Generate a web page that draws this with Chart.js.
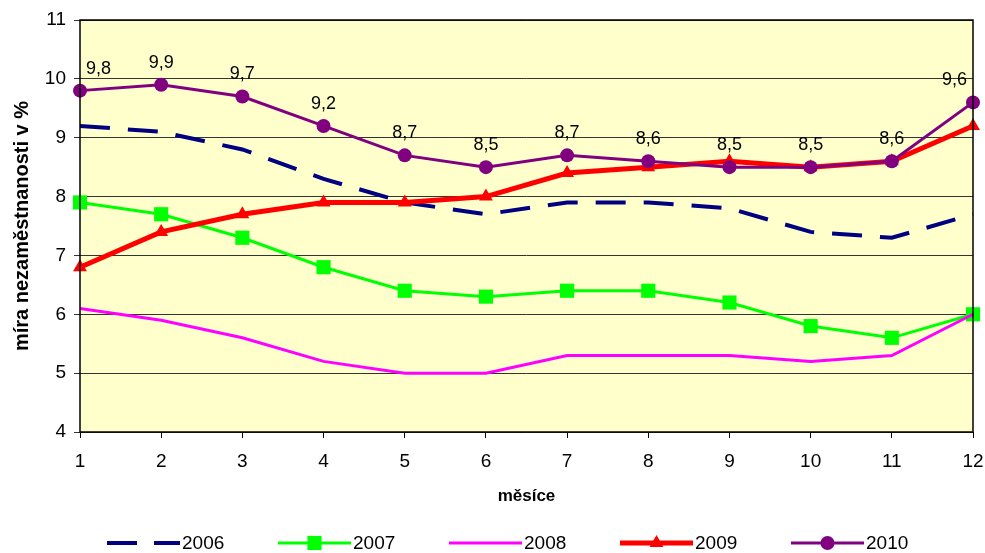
<!DOCTYPE html>
<html>
<head>
<meta charset="utf-8">
<script src="https://cdn.jsdelivr.net/npm/chart.js@4/dist/chart.umd.min.js"></script>
<style>
  html, body { margin: 0; padding: 0; background: #fff; }
  #wrap { width: 985px; height: 553px; position: relative; }
</style>
</head>
<body>
<div id="wrap"><canvas id="c" width="985" height="553"></canvas></div>
<script>
const months = ['1','2','3','4','5','6','7','8','9','10','11','12'];
const yTicks = [4,5,6,7,8,9,10,11];
const years = ['2006','2007','2008','2009','2010'];
const s2006 = [9.2, 9.1, 8.8, 8.3, 7.9, 7.7, 7.9, 7.9, 7.8, 7.4, 7.3, 7.7];
const s2007 = [7.9, 7.7, 7.3, 6.8, 6.4, 6.3, 6.4, 6.4, 6.2, 5.8, 5.6, 6.0];
const s2008 = [6.1, 5.9, 5.6, 5.2, 5.0, 5.0, 5.3, 5.3, 5.3, 5.2, 5.3, 6.0];
const s2009 = [6.8, 7.4, 7.7, 7.9, 7.9, 8.0, 8.4, 8.5, 8.6, 8.5, 8.6, 9.2];
const s2010 = [9.8, 9.9, 9.7, 9.2, 8.7, 8.5, 8.7, 8.6, 8.5, 8.5, 8.6, 9.6];
const yTitle = 'míra nezaměstnanosti v %';
const xTitle = 'měsíce';

const FONT = "'Liberation Sans', Arial, sans-serif";

const datasets = [
  { label: years[0], data: s2006, borderColor: '#000080', backgroundColor: '#000080',
    borderWidth: 4, borderDash: [30, 18], pointRadius: 0, order: 5 },
  { label: years[1], data: s2007, borderColor: '#00FF00', backgroundColor: '#00FF00',
    borderWidth: 3, pointStyle: 'rect', pointRadius: 10, pointBorderWidth: 0, order: 4 },
  { label: years[2], data: s2008, borderColor: '#FF00FF', backgroundColor: '#FF00FF',
    borderWidth: 3, pointRadius: 0, order: 3 },
  { label: years[3], data: s2009, borderColor: '#FF0000', backgroundColor: '#FF0000',
    borderWidth: 5, pointStyle: 'triangle', pointRadius: 8, pointBorderWidth: 0, order: 2 },
  { label: years[4], data: s2010, borderColor: '#800080', backgroundColor: '#800080',
    borderWidth: 3, pointStyle: 'circle', pointRadius: 7, pointBorderWidth: 0, order: 1, showLabels: true }
];
datasets.forEach(d => { d.tension = 0; d.clip = false; d.fill = false; d.pointHoverRadius = d.pointRadius; });

const bgPlugin = {
  id: 'bg',
  beforeDraw(chart) {
    const { ctx, chartArea: a } = chart;
    ctx.save();
    ctx.fillStyle = '#FFFFCC';
    ctx.fillRect(a.left, a.top, a.right - a.left, a.bottom - a.top);
    ctx.restore();
  },
  afterDatasetsDraw(chart) {
    const { ctx, chartArea: a } = chart;
    ctx.save();
    ctx.font = '18px ' + FONT;
    ctx.fillStyle = '#000';
    ctx.textAlign = 'center';
    ctx.textBaseline = 'middle';
    chart.data.datasets.forEach((ds, i) => {
      if (!ds.showLabels) return;
      const meta = chart.getDatasetMeta(i);
      meta.data.forEach((pt, j) => {
        const txt = ds.data[j].toFixed(1).replace('.', ',');
        const w = ctx.measureText(txt).width;
        let x = pt.x;
        x = Math.max(a.left + w / 2 + 6, Math.min(a.right - w / 2 - 6, x));
        ctx.fillText(txt, x, pt.y - 22);
      });
    });
    ctx.restore();
  },
  afterDraw(chart) {
    const { ctx, chartArea: a } = chart;
    ctx.save();
    ctx.strokeStyle = '#000';
    ctx.lineWidth = 1.5;
    ctx.strokeRect(a.left, a.top, a.right - a.left, a.bottom - a.top);
    const startX = 107, step = 171, lineLen = 73, ly = 543;
    ctx.font = '19px ' + FONT;
    ctx.textBaseline = 'middle';
    ctx.textAlign = 'left';
    chart.data.datasets.forEach((ds, i) => {
      const x0 = startX + i * step;
      ctx.save();
      ctx.strokeStyle = ds.borderColor;
      ctx.lineWidth = ds.borderWidth;
      if (ds.borderDash) ctx.setLineDash([30, 17]);
      ctx.beginPath();
      ctx.moveTo(x0, ly);
      ctx.lineTo(x0 + lineLen, ly);
      ctx.stroke();
      ctx.restore();
      if (ds.pointRadius > 0) {
        ctx.fillStyle = ds.backgroundColor;
        ctx.beginPath();
        const mx = x0 + lineLen / 2, r = ds.pointRadius;
        if (ds.pointStyle === 'rect') {
          const s = r * Math.SQRT1_2;
          ctx.rect(mx - s, ly - s, 2 * s, 2 * s);
        } else if (ds.pointStyle === 'circle') {
          ctx.arc(mx, ly, r, 0, Math.PI * 2);
        } else if (ds.pointStyle === 'triangle') {
          ctx.moveTo(mx, ly - r);
          ctx.lineTo(mx + r * 0.866, ly + r * 0.5);
          ctx.lineTo(mx - r * 0.866, ly + r * 0.5);
          ctx.closePath();
        }
        ctx.fill();
      }
      ctx.fillStyle = '#000';
      ctx.fillText(ds.label, x0 + lineLen + 2, ly + 1);
    });
    ctx.restore();
  }
};

new Chart(document.getElementById('c'), {
  type: 'line',
  data: { labels: months, datasets },
  options: {
    responsive: false,
    animation: false,
    devicePixelRatio: 1,
    layout: { padding: { top: 20, right: 12, left: 0, bottom: 0 } },
    plugins: { legend: { display: false }, tooltip: { enabled: false } },
    scales: {
      x: {
        type: 'category',
        offset: false,
        afterFit(s) { s.height = 121; s.paddingLeft = 0; s.paddingRight = 0; },
        grid: { display: true, drawOnChartArea: false, drawTicks: true, tickLength: 6, color: '#000', lineWidth: 1 },
        border: { display: false },
        ticks: { color: '#000', font: { family: FONT, size: 19 }, padding: 12, maxRotation: 0, autoSkip: false },
        title: { display: true, text: xTitle, color: '#000', font: { family: FONT, size: 17, weight: 'bold' }, padding: { bottom: 46 } }
      },
      y: {
        min: 4, max: 11,
        afterFit(s) { s.width = 80; s.paddingTop = 0; s.paddingBottom = 0; },
        afterBuildTicks(s) { s.ticks = yTicks.map(v => ({ value: v })); },
        grid: { color: '#333', lineWidth: 1, drawTicks: true, tickLength: 6 },
        border: { display: false },
        ticks: { color: '#000', font: { family: FONT, size: 19 }, padding: 8 },
        title: { display: true, text: yTitle, color: '#000', font: { family: FONT, size: 20, weight: 'bold' }, padding: { top: 10 } }
      }
    }
  },
  plugins: [bgPlugin]
});
</script>
</body>
</html>
